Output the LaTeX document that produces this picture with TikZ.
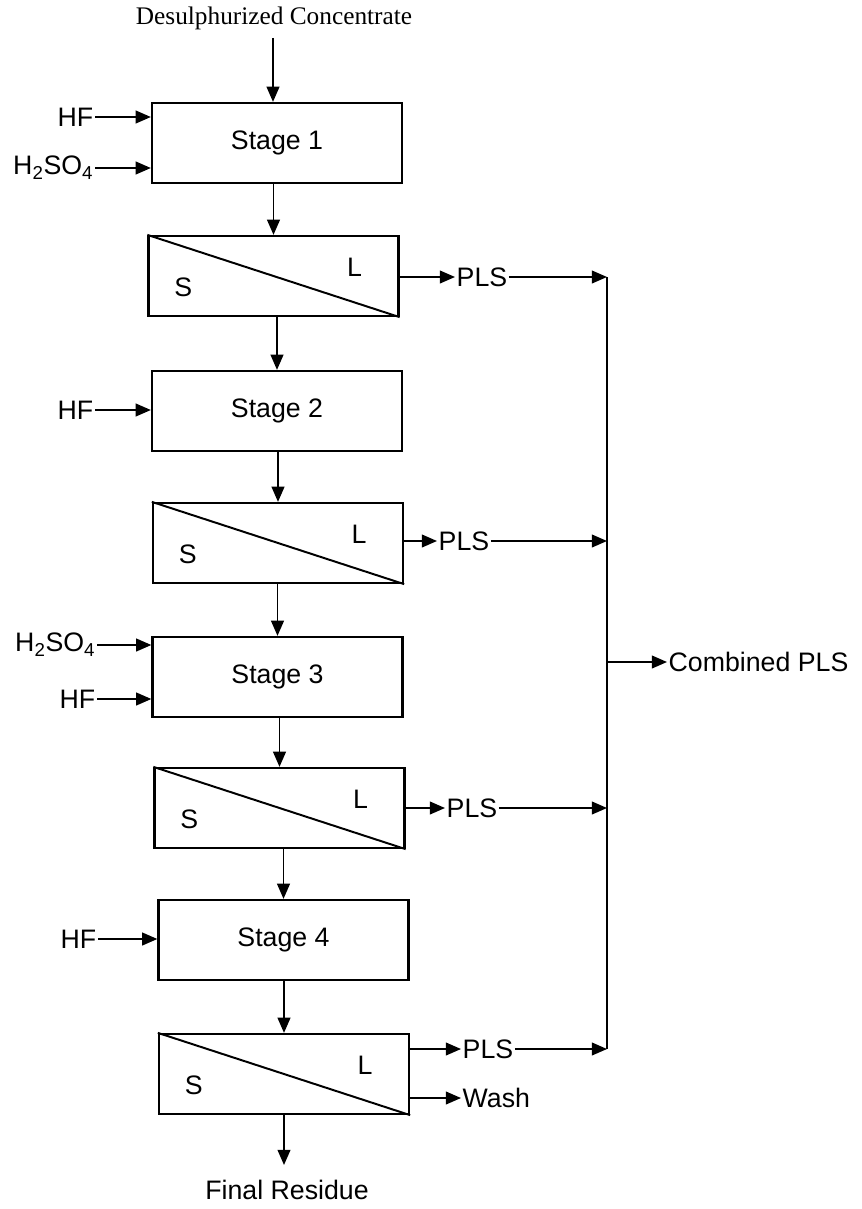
\documentclass[tikz,border=0pt]{standalone}
\usepackage{fontspec}
\setmainfont{Liberation Sans}
\newfontfamily\titlefont{Liberation Serif}
\usetikzlibrary{calc,arrows.meta}

\tikzset{
    stagebox/.style={draw, line width=1.6pt, minimum width=6.25cm, minimum height=2cm, inner sep=0pt},
    flow/.style={line width=1.2pt, -{Triangle[length=0.38cm,width=0.32cm]}},
    tag/.style={inner sep=1pt},
}

\begin{document}
\begin{tikzpicture}[x=0.025cm, y=-0.025cm, font=\fontsize{19}{22}\selectfont]
    \useasboundingbox (0,0) rectangle (861,1209);

    \node[font=\titlefont\fontsize{18}{22}\selectfont] (feed) at (274,18) {Desulphurized Concentrate};
    \coordinate (top) at (273,38);

    % leach stages and S/L separations
    \node[stagebox] (st1) at (277,143) {Stage 1};
    \node[stagebox] (sl1) at (273.5,276) {};
    \node[stagebox] (st2) at (277,411) {Stage 2};
    \node[stagebox] (sl2) at (278,543) {};
    \node[stagebox] (st3) at (277.5,677) {Stage 3};
    \node[stagebox] (sl3) at (279.5,808) {};
    \node[stagebox] (st4) at (283.5,940) {Stage 4};
    \node[stagebox] (sl4) at (284,1074) {};

    \foreach \n in {sl1,sl2,sl3,sl4} {
        \draw[line width=1.4pt] (\n.north west) -- (\n.south east);
        \node at ($(\n.south west)+(36,-30)$) {S};
        \node at ($(\n.north east)+(-45,32)$) {L};
    }

    \draw[flow] (top) -- (top |- st1.north);
    \foreach \a/\b in {st1/sl1,sl1/st2,st2/sl2,sl2/st3,st3/sl3,sl3/st4,st4/sl4}
        \draw[flow] (\b.north |- \a.south) -- (\b.north);

    % reagents
    \node[tag, anchor=east] (hf1) at (95,117) {HF};
    \node[tag, anchor=east] (sa1) at (95,168) {H\textsubscript{2}SO\textsubscript{4}};
    \node[tag, anchor=east] (hf2) at (95,410) {HF};
    \node[tag, anchor=east] (sa3) at (97,645) {H\textsubscript{2}SO\textsubscript{4}};
    \node[tag, anchor=east] (hf3) at (97,699) {HF};
    \node[tag, anchor=east] (hf4) at (98,939) {HF};
    \foreach \r/\s in {hf1/st1,sa1/st1,hf2/st2,sa3/st3,hf3/st3,hf4/st4}
        \draw[flow] (\r.east) -- (\r.east -| \s.west);

    % liquors
    \node[tag, anchor=west] (pls1) at (455,277) {PLS};
    \node[tag, anchor=west] (pls2) at (437,541) {PLS};
    \node[tag, anchor=west] (pls3) at (445,808) {PLS};
    \node[tag, anchor=west] (pls4) at (461,1049) {PLS};
    \node[tag, anchor=west] (wash) at (461,1098) {Wash};
    \coordinate (j1) at (607,277);
    \coordinate (j2) at (607,541);
    \coordinate (j3) at (607,808);
    \coordinate (j4) at (607,1049);
    \foreach \p/\s/\j in {pls1/sl1/j1,pls2/sl2/j2,pls3/sl3/j3,pls4/sl4/j4} {
        \draw[flow] (\s.east |- \p.west) -- (\p.west);
        \draw[flow] (\p.east) -- (\j);
    }
    \draw[flow] (sl4.east |- wash.west) -- (wash.west);
    \draw[line width=1.2pt] (j1) -- (j4);

    \coordinate (jc) at (607,662);
    \node[tag, anchor=west] (comb) at (667,662) {Combined PLS};
    \draw[flow] (jc) -- (comb.west);

    \node (res) at (287,1190) {Final Residue};
    \coordinate (out) at (284,1165);
    \draw[flow] (sl4.south) -- (out);
\end{tikzpicture}
\end{document}
